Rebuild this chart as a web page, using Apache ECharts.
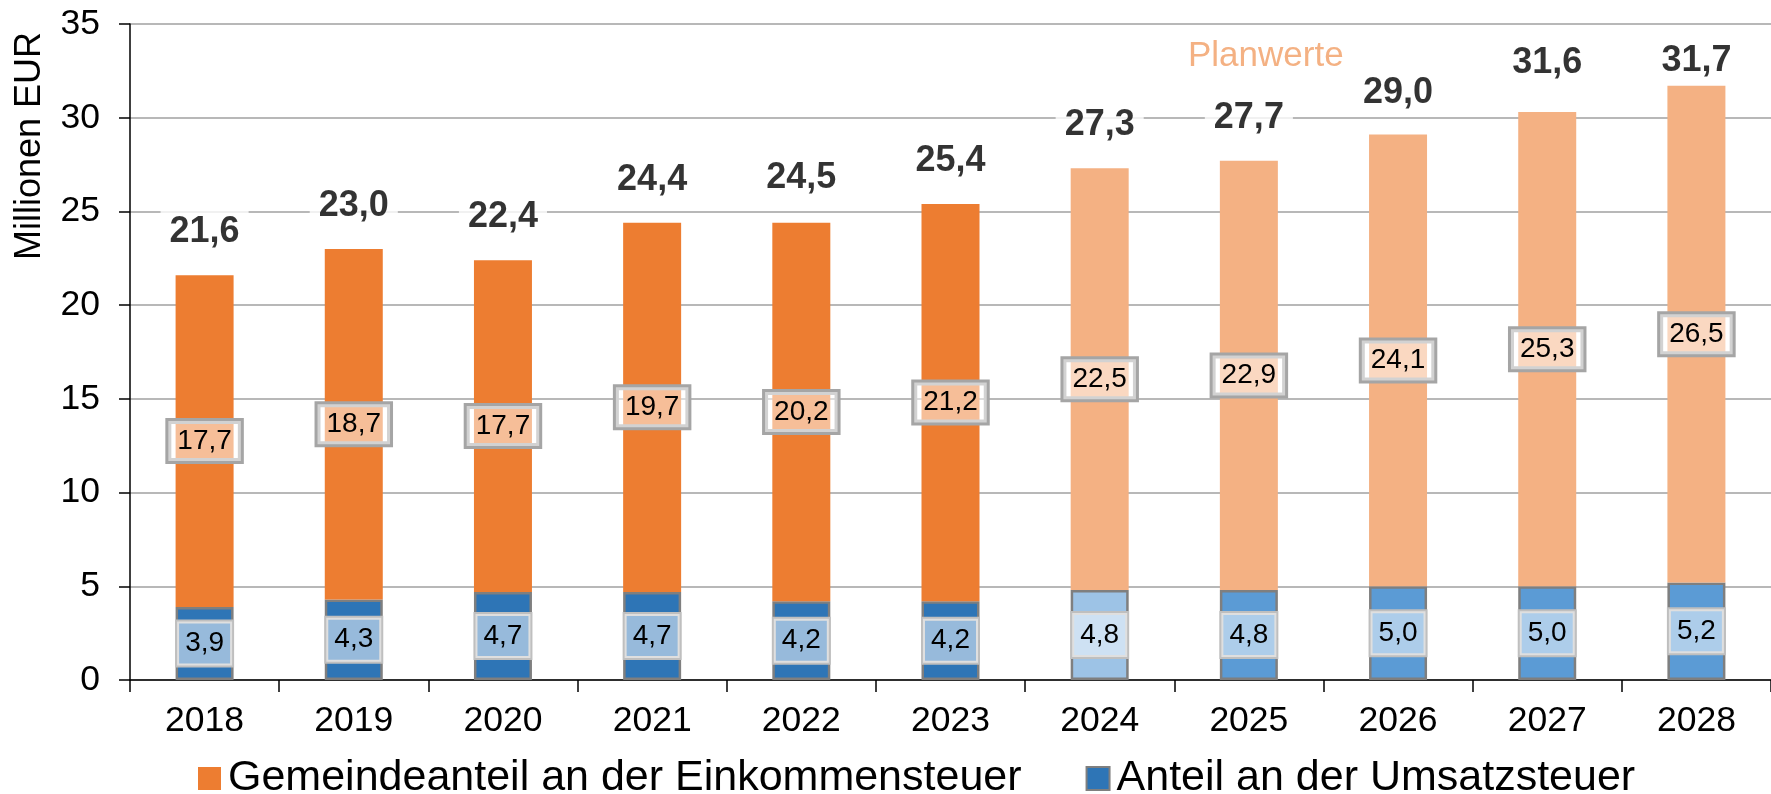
<!DOCTYPE html>
<html>
<head>
<meta charset="utf-8">
<script src="https://cdn.jsdelivr.net/npm/echarts@6/dist/echarts.min.js"></script>
<style>
html,body{margin:0;padding:0;background:#fff;}
#chart{width:1771px;height:794px;}
</style>
</head>
<body>
<div id="chart"></div>
<script>
// ---- data ----
const years = ['2018','2019','2020','2021','2022','2023','2024','2025','2026','2027','2028'];
const einkommensteuer = [17.7, 18.7, 17.7, 19.7, 20.2, 21.2, 22.5, 22.9, 24.1, 25.3, 26.5];
const umsatzsteuer = [3.9, 4.3, 4.7, 4.7, 4.2, 4.2, 4.8, 4.8, 5.0, 5.0, 5.2];
const totalLabels = [21.6, 23.0, 22.4, 24.4, 24.5, 25.4, 27.3, 27.7, 29.0, 31.6, 31.7];
const firstPlanYear = '2024';
const yMin = 0, yMax = 35, yStep = 5;
const nameEink = 'Gemeindeanteil an der Einkommensteuer';
const nameUst = 'Anteil an der Umsatzsteuer';
const planText = 'Planwerte';
const yTitle = 'Millionen EUR';

// ---- helpers ----
const FONT = '"Liberation Sans", Arial, sans-serif';
const fmt = v => Number(v).toFixed(1).replace('.', ',');
const planIdx = years.indexOf(firstPlanYear);
const orangeColor = i => i >= planIdx ? '#F4B183' : '#ED7D31';
const blueColor = i => i < planIdx ? '#2E75B6' : (i === planIdx ? '#9DC3E6' : '#5B9BD5');

const chart = echarts.init(document.getElementById('chart'), null, {renderer: 'canvas'});

const option = {
  animation: false,
  backgroundColor: '#fff',
  textStyle: {fontFamily: FONT},
  grid: {left: 130, top: 24, width: 1652, height: 656, containLabel: false},
  legend: {
    data: [nameEink, nameUst],
    left: 193, top: 752,
    itemWidth: 23, itemHeight: 23, itemGap: 64,
    icon: 'rect',
    selectedMode: false,
    textStyle: {fontSize: 43, color: '#000', fontFamily: FONT, padding: [0, 0, 0, 2]}
  },
  xAxis: {
    type: 'category',
    data: years,
    axisLine: {lineStyle: {color: '#000', width: 1.5}},
    axisTick: {show: true, length: 12, lineStyle: {color: '#000', width: 1.5}},
    axisLabel: {fontSize: 35.5, color: '#000', margin: 23, fontFamily: FONT}
  },
  yAxis: {
    type: 'value',
    min: yMin, max: yMax, interval: yStep,
    axisLine: {show: true, lineStyle: {color: '#000', width: 1.5}},
    axisTick: {show: true, length: 11, lineStyle: {color: '#000', width: 1.5}},
    axisLabel: {fontSize: 35.5, color: '#000', margin: 30, fontFamily: FONT},
    splitLine: {lineStyle: {color: '#A0A0A0', width: 1.5}}
  },
  graphic: [
    {
      type: 'text', x: 1188, y: 39,
      style: {text: planText, fill: '#F4B183', font: '35px ' + FONT}
    },
    {
      type: 'text', x: 30, y: 146, rotation: Math.PI / 2,
      style: {text: yTitle, fill: '#000', font: '36px ' + FONT, textAlign: 'center', textVerticalAlign: 'middle'}
    }
  ],
  series: [
    {
      name: nameUst, type: 'bar', stack: 'total', barWidth: 58,
      itemStyle: {color: '#2E75B6', borderColor: '#7F7F7F', borderWidth: 2.5},
      data: umsatzsteuer.map((v, i) => ({value: v, itemStyle: {color: blueColor(i)}})),
      label: {
        show: true, position: 'inside', formatter: p => fmt(p.value),
        fontSize: 28, lineHeight: 28, color: '#000', fontFamily: FONT,
        backgroundColor: 'rgba(255,255,255,0.5)', borderColor: '#BFBFBF', borderWidth: 2,
        padding: [8, 0], width: 55, align: 'center'
      }
    },
    {
      name: nameEink, type: 'bar', stack: 'total', barWidth: 58,
      itemStyle: {color: '#ED7D31'},
      data: einkommensteuer.map((v, i) => ({value: v, itemStyle: {color: orangeColor(i)}})),
      label: {
        show: true, position: 'inside', formatter: p => fmt(p.value),
        fontSize: 28, lineHeight: 28, color: '#000', fontFamily: FONT,
        backgroundColor: 'rgba(255,255,255,0.5)', borderColor: '#A5A5A5', borderWidth: 3,
        padding: [6, 9]
      }
    },
    {
      name: 'Summe', type: 'scatter', symbolSize: 0.001, silent: true, z: 10,
      data: totalLabels.map(v => ({
        value: v,
        label: {distance: v > 30 ? 2 : 20}
      })),
      label: {
        show: true, position: 'top', formatter: p => fmt(p.value),
        fontSize: 36, lineHeight: 36, fontWeight: 'bold', color: '#000', fontFamily: FONT,
        backgroundColor: '#fff', padding: [5, 9]
      }
    }
  ]
};
chart.setOption(option);
</script>
</body>
</html>
